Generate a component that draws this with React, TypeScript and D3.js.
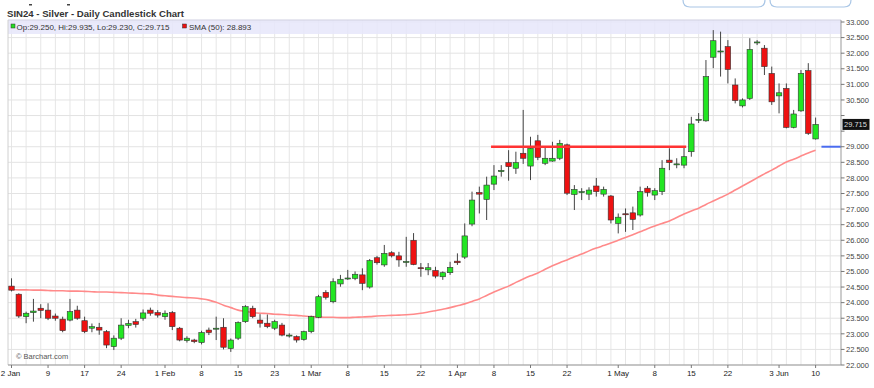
import React from "react";
import * as d3 from "d3";

const opens = [24.53,24.27,23.55,23.68,23.82,23.76,23.57,23.47,23.44,23.76,
23.42,23.18,23.21,23.07,22.59,22.86,23.27,23.39,23.50,23.76,
23.68,23.55,23.68,23.18,22.78,22.80,22.72,23.12,23.15,23.21,
22.53,22.86,23.39,23.82,23.44,23.34,23.18,23.28,22.93,22.91,
22.82,23.07,23.53,24.33,24.03,24.60,24.76,24.78,24.89,24.50,
25.44,25.21,25.60,25.50,25.30,26.00,25.12,25.05,25.03,24.83,
24.96,25.33,25.46,26.52,27.53,27.31,27.80,28.20,28.49,28.31,
28.79,28.38,29.19,28.47,28.54,28.63,29.06,27.47,27.55,27.48,
27.74,27.48,27.42,26.54,26.85,26.88,26.81,27.67,27.45,27.56,
28.57,28.43,28.41,28.84,29.86,29.83,31.87,32.05,32.21,30.98,
30.31,30.55,32.33,32.16,31.35,30.63,30.87,29.62,30.15,31.44,29.25];

const closes = [24.40,23.57,23.66,23.73,23.75,23.50,23.50,23.10,23.71,23.50,
23.07,23.23,23.12,22.64,22.86,23.28,23.33,23.30,23.67,23.66,
23.60,23.66,23.23,22.80,22.86,22.75,23.04,23.04,23.18,22.57,
22.80,23.36,23.87,23.55,23.34,23.23,23.39,22.96,22.96,22.80,
23.07,23.55,24.19,24.17,24.67,24.75,24.79,24.91,24.62,25.35,
25.28,25.58,25.50,25.37,25.32,25.22,25.10,25.12,24.85,24.96,
25.13,25.28,26.14,27.29,27.48,27.77,28.06,28.24,28.36,28.49,
28.63,28.95,28.66,28.63,28.63,29.11,27.51,27.63,27.56,27.61,
27.56,27.63,26.65,26.74,26.83,26.67,27.56,27.53,27.59,28.31,
28.49,28.45,28.68,29.73,29.88,31.25,32.40,32.07,31.48,30.48,
30.50,32.12,32.36,31.57,30.44,30.73,29.62,30.05,31.35,29.43,29.715];

const highs = [24.78,24.30,23.71,24.12,23.95,23.98,23.65,23.55,24.12,23.90,
23.55,23.33,23.35,23.12,22.95,23.50,23.45,23.48,23.78,23.84,
23.76,23.75,23.73,23.22,22.92,22.84,23.10,23.20,23.55,23.50,
22.85,23.40,23.92,23.90,23.63,23.62,23.45,23.35,23.02,22.95,
23.10,23.58,24.25,24.40,24.78,24.89,25.05,25.00,25.10,25.40,
25.50,25.85,25.65,25.63,26.11,26.23,25.27,25.27,25.15,25.00,
25.31,25.58,26.54,27.56,27.72,28.04,28.41,28.41,28.89,28.84,
30.18,29.32,29.38,29.00,29.16,29.22,29.10,27.77,27.67,27.70,
28.00,27.72,27.45,26.86,27.02,27.08,27.72,27.74,27.67,28.57,
28.95,28.63,29.00,29.96,30.08,31.78,32.74,32.69,32.42,31.19,
30.55,32.48,32.42,32.26,31.57,31.03,31.03,30.18,31.46,31.68,29.935];

const lows = [24.36,23.51,23.34,23.39,23.50,23.44,23.42,23.05,23.40,23.45,
23.02,23.05,22.97,22.54,22.48,22.80,23.18,23.20,23.42,23.58,
23.52,23.45,23.12,22.76,22.72,22.70,22.66,22.96,22.80,22.50,
22.42,22.80,23.35,23.50,23.20,23.18,23.12,22.92,22.88,22.72,
22.78,23.02,23.50,24.10,23.98,24.51,24.73,24.72,24.40,24.45,
25.22,25.15,25.45,25.15,25.15,25.20,24.83,24.88,24.78,24.73,
24.89,25.21,25.40,26.45,26.86,26.65,27.61,28.04,27.91,28.13,
28.45,27.93,28.57,28.41,28.52,28.57,27.45,26.97,27.29,27.29,
27.40,27.40,26.54,26.22,26.27,26.33,26.76,27.40,27.29,27.45,
28.25,28.31,28.31,28.68,29.76,29.80,31.52,31.25,31.03,30.39,
30.26,30.50,32.26,31.30,30.34,30.07,29.59,29.59,30.12,29.38,29.23];

const sma50 = [24.42,24.41,24.41,24.40,24.40,24.39,24.38,24.38,24.37,24.37,
24.36,24.35,24.34,24.34,24.33,24.32,24.31,24.30,24.29,24.28,
24.24,24.22,24.20,24.18,24.16,24.15,24.12,24.08,24.01,23.92,
23.84,23.76,23.72,23.68,23.66,23.65,23.63,23.62,23.60,23.59,
23.57,23.55,23.54,23.53,23.53,23.52,23.52,23.53,23.54,23.55,
23.57,23.58,23.59,23.60,23.61,23.63,23.66,23.70,23.74,23.79,
23.84,23.90,23.96,24.04,24.12,24.23,24.34,24.44,24.53,24.65,
24.76,24.86,24.95,25.07,25.18,25.28,25.37,25.47,25.56,25.66,
25.75,25.83,25.91,26.00,26.09,26.18,26.27,26.37,26.46,26.54,
26.62,26.73,26.84,26.94,27.03,27.15,27.26,27.37,27.48,27.61,
27.74,27.87,28.00,28.13,28.25,28.38,28.51,28.60,28.70,28.80,28.89];

const tickIdx = [0,5,10,15,21,26,31,36,41,46,51,56,61,66,71,76,83,88,93,98,105,110];
const tickLabels = ["2 Jan","9","17","24","1 Feb","8","15","23","1 Mar","8","15","22","1 Apr","8","15","22","1 May","8","15","22","3 Jun","10"];
const yTicks = [22,22.5,23,23.5,24,24.5,25,25.5,26,26.5,27,27.5,28,28.5,29,29.5,30,30.5,31,31.5,32,32.5,33];

const trendLine = { from: 65.6, to: 92.3, value: 29.0 };
const blueLine = { from: 110.8, to: 113.5, value: 29.0 };
const lastInfo = { op: "29.250", hi: "29.935", lo: "29.230", c: "29.715", sma: "28.893" };

const W = 874, H = 388;
const L = 8, R = 841, T = 20, B = 365;
const FONT = "'Liberation Sans', Arial, sans-serif";

export default function App() {
  const x = d3.scaleLinear().domain([0, 110]).range([11.5, 815.6]);
  const y = d3.scaleLinear().domain([22, 33]).range([365, 22]);
  const idx = d3.range(opens.length);
  const bw = 5.5;
  const lastY = y(+lastInfo.c);

  const smaLine = d3.line<number>().x((_, i) => x(i)).y((d) => y(d)).curve(d3.curveMonotoneX);
  const gridX = d3.range(0, 114, 2);

  return (
    <svg width={W} height={H} style={{ position: "absolute", left: 0, top: 0, background: "#fff" }} fontFamily={FONT}>
      <rect x={0} y={0} width={W} height={H} fill="#fff" />
      {/* top UI tabs */}
      <path d="M683,0 Q683,7 690,7 L758,7 Q765,7 765,0" fill="none" stroke="#a9c6e6" strokeWidth={1.2} />
      <path d="M770,0 Q770,7 777,7 L844,7 Q851,7 851,0" fill="none" stroke="#a9c6e6" strokeWidth={1.2} />
      <rect x={29} y={4} width={3} height={1.5} fill="#444" />
      <rect x={67} y={4} width={3} height={1.5} fill="#444" />
      {/* title */}
      <text x={7} y={17} fontSize={9.6} fontWeight="bold" fill="#333">SIN24 - Silver - Daily Candlestick Chart</text>

      {/* plot background */}
      <rect x={L} y={T} width={R - L} height={B - T} fill="#fff" />
      {/* grid */}
      {gridX.map((g) => (
        <line key={"gx" + g} x1={x(g)} x2={x(g)} y1={T} y2={B} stroke="#e6e6e6" strokeWidth={1} />
      ))}
      {yTicks.map((t) => (
        <line key={"gy" + t} x1={L} x2={R} y1={y(t)} y2={y(t)} stroke="#e3e3e3" strokeWidth={1} />
      ))}
      {/* legend band */}
      <rect x={L} y={T} width={R - L} height={14} fill="#e6e6fa" opacity={0.85} />
      <line x1={L} x2={R} y1={T} y2={T} stroke="#cfcfe0" />
      <rect x={11} y={24} width={4} height={4} fill="#22dd22" stroke="#333" strokeWidth={0.5} />
      <text x={16.5} y={29.5} fontSize={8} fill="#333">{`Op:${lastInfo.op}, Hi:${lastInfo.hi}, Lo:${lastInfo.lo}, C:${lastInfo.c}`}</text>
      <rect x={182.5} y={24} width={4} height={4} fill="#ee1111" stroke="#333" strokeWidth={0.5} />
      <text x={189} y={29.5} fontSize={8} fill="#333">{`SMA (50): ${lastInfo.sma}`}</text>

      {/* left border */}
      <line x1={L} x2={L} y1={T} y2={B} stroke="#d0d0d0" />

      {/* SMA */}
      <path d={smaLine(sma50) || ""} fill="none" stroke="#ff8a8a" strokeWidth={1.6} />

      {/* candles */}
      {idx.map((i) => {
        const o = opens[i], c = closes[i], h = highs[i], l = lows[i];
        const up = c >= o;
        const top = y(Math.max(o, c));
        const bot = y(Math.min(o, c));
        const cx = x(i);
        return (
          <g key={"c" + i}>
            <line x1={cx} x2={cx} y1={y(h)} y2={y(l)} stroke="#444" strokeWidth={1} />
            <rect x={cx - bw / 2} y={top} width={bw} height={Math.max(1, bot - top)}
              fill={up ? "#22e622" : "#ee1111"} stroke="#333" strokeWidth={0.6} />
          </g>
        );
      })}

      {/* trend lines */}
      <line x1={x(trendLine.from)} x2={x(trendLine.to)} y1={y(trendLine.value)} y2={y(trendLine.value)} stroke="#ff3333" strokeWidth={2.4} />
      <line x1={x(blueLine.from)} x2={x(blueLine.to)} y1={y(blueLine.value)} y2={y(blueLine.value)} stroke="#4a6cf0" strokeWidth={2} />

      {/* axes */}
      <line x1={L} x2={R} y1={B} y2={B} stroke="#999" />
      <line x1={R} x2={R} y1={T} y2={B} stroke="#999" />
      {yTicks.map((t) => (
        <g key={"yt" + t}>
          <line x1={R} x2={R + 3.5} y1={y(t)} y2={y(t)} stroke="#777" />
          {Math.abs(y(t) - lastY) > 9 && (
            <text x={R + 5} y={y(t) + 2.7} fontSize={7.5} fill="#444">{t.toFixed(3)}</text>
          )}
        </g>
      ))}
      {tickIdx.map((ti, k) => (
        <g key={"xt" + ti}>
          <line x1={x(ti)} x2={x(ti)} y1={B} y2={B + 3} stroke="#777" />
          <text x={k === 0 ? x(ti) - 1 : x(ti)} y={376} fontSize={8} fill="#222" textAnchor="middle">{tickLabels[k]}</text>
        </g>
      ))}
      {/* last price label */}
      <rect x={R + 1.5} y={lastY - 5.5} width={27} height={11} fill="#111" />
      <text x={R + 3} y={lastY + 2.7} fontSize={7.5} fill="#ddd">{lastInfo.c}</text>

      <text x={16} y={359} fontSize={7.5} fill="#555">© Barchart.com</text>
    </svg>
  );
}
